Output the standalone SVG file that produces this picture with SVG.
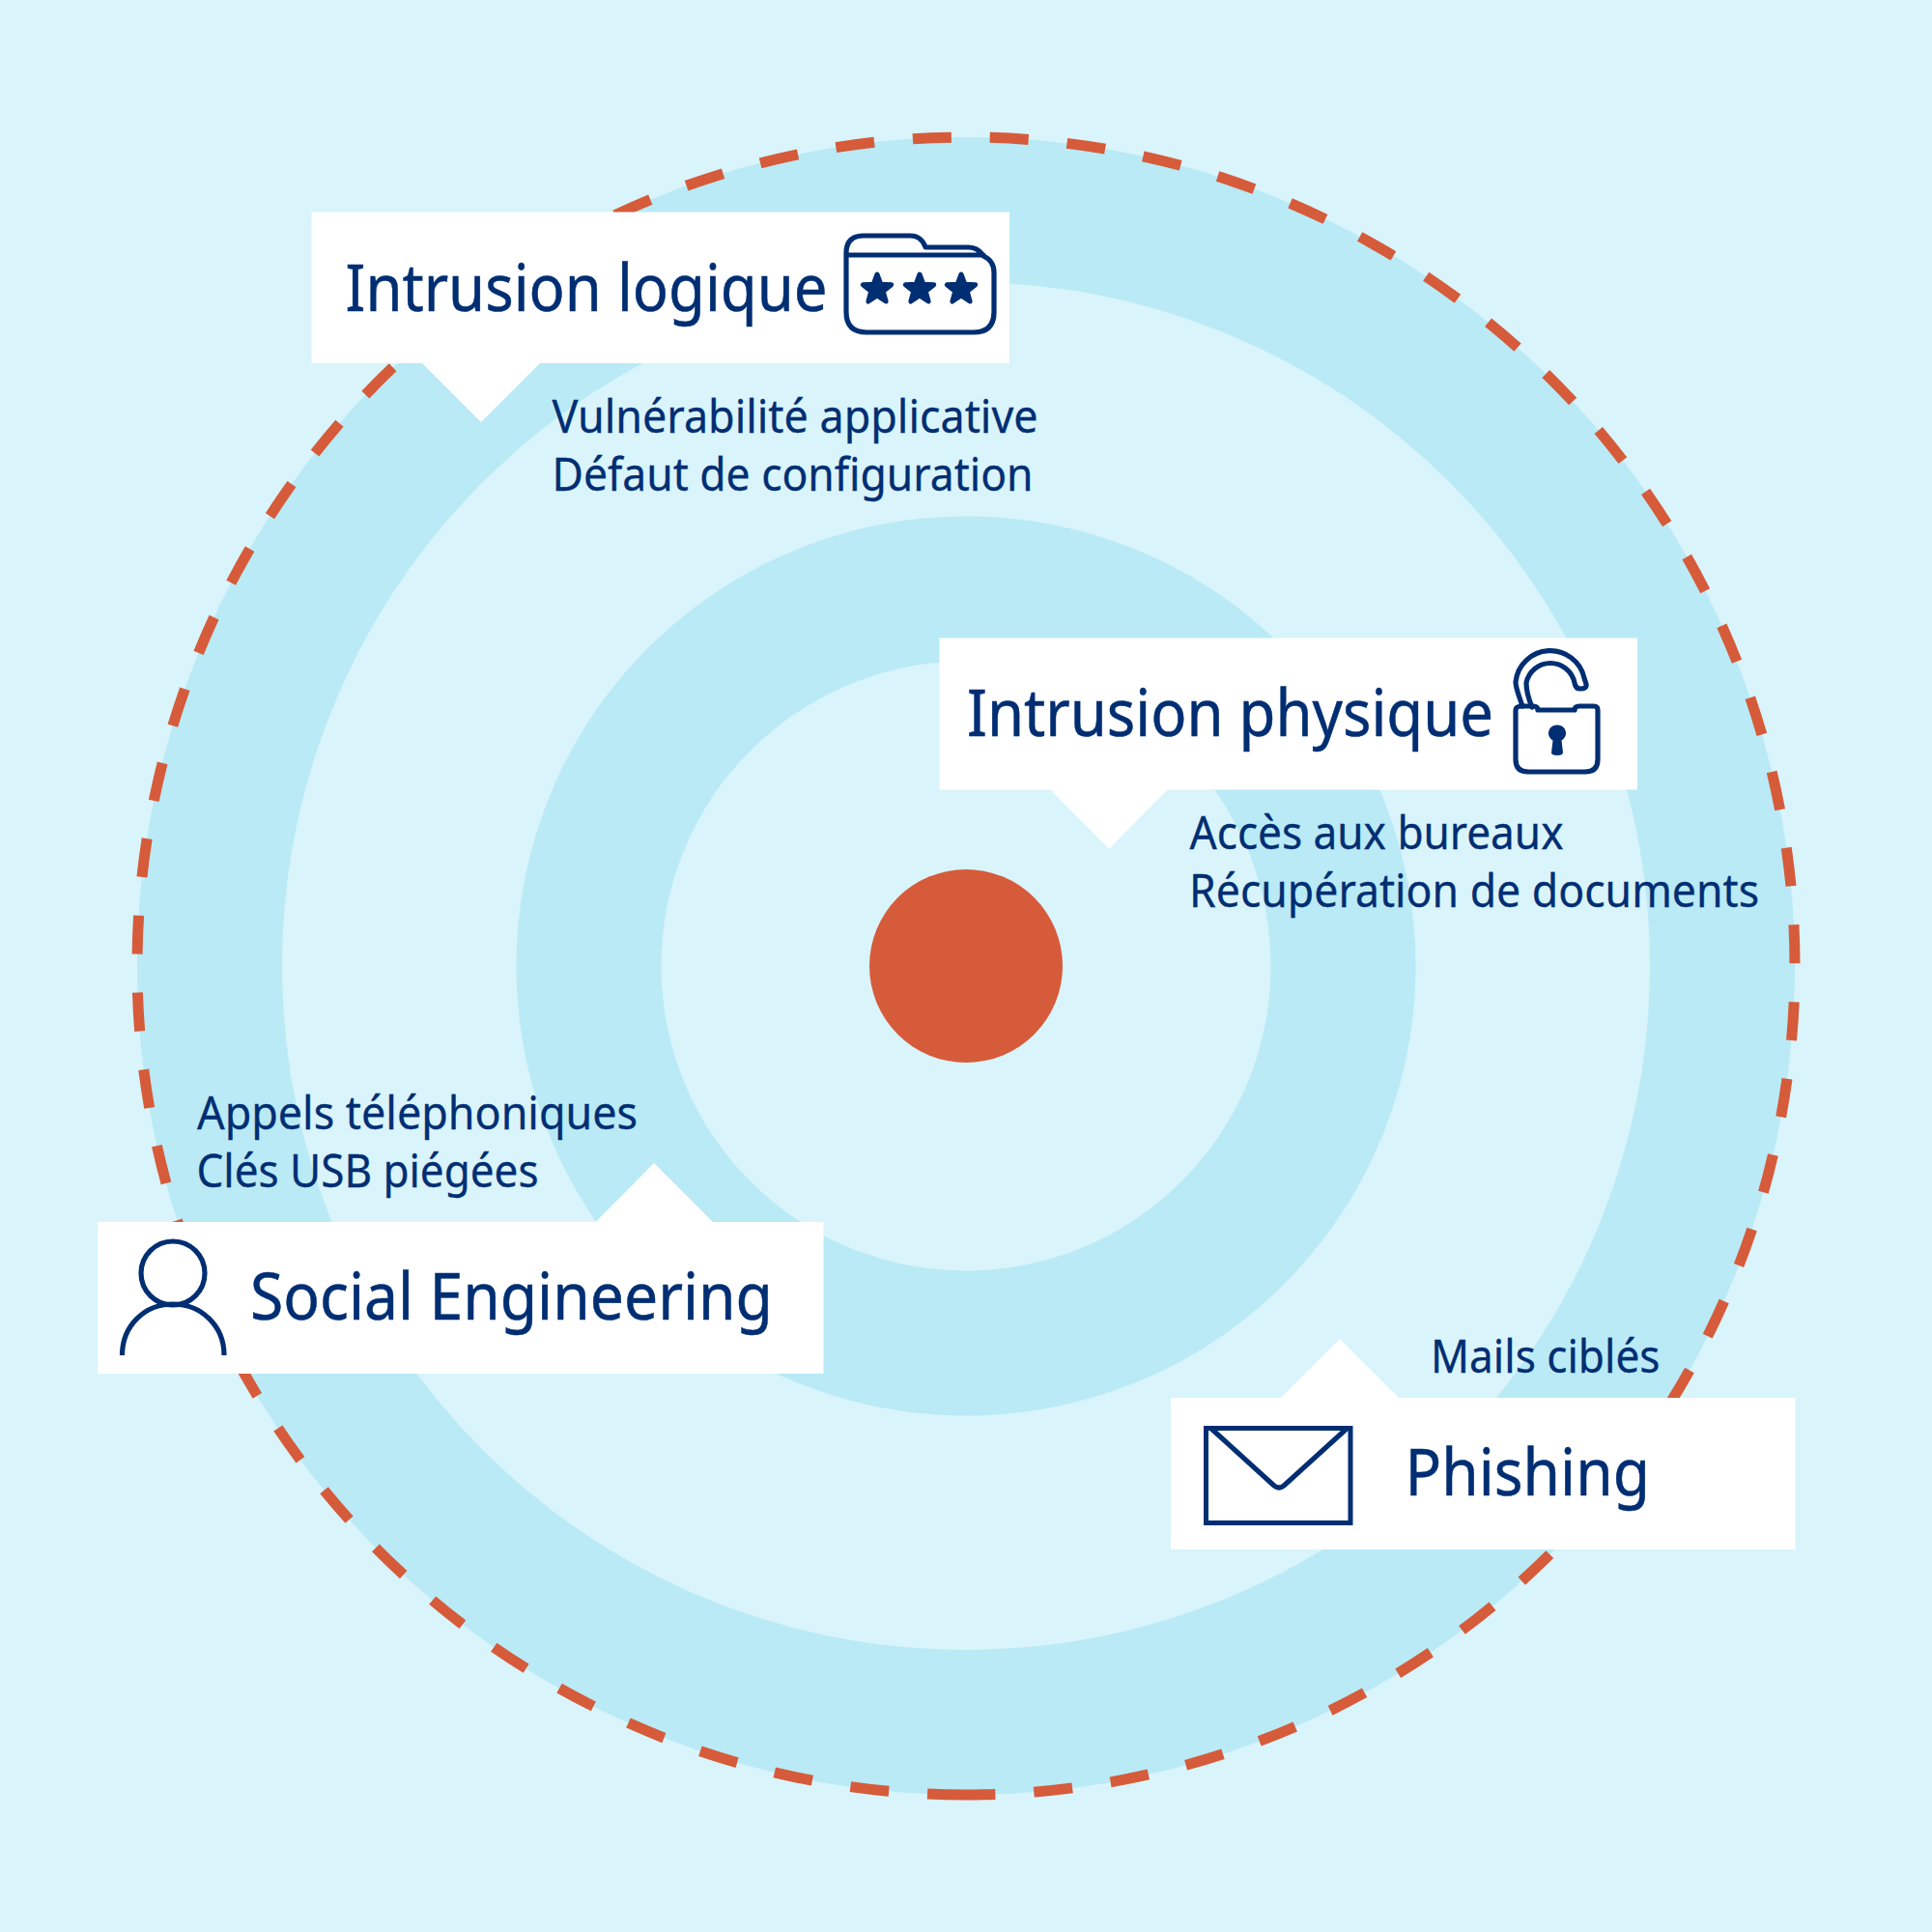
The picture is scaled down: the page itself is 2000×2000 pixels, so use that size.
<svg xmlns="http://www.w3.org/2000/svg" width="2000" height="2000" viewBox="0 0 2000 2000">
<style>
.ring{fill:none;stroke:#b9eaf6;stroke-width:150}
.box{fill:#fff}
.ic{fill:none;stroke:#002e73;stroke-width:5.2;stroke-linejoin:round;stroke-linecap:round}
.star{fill:#002e73;stroke:#002e73;stroke-width:5;stroke-linejoin:round}
text{font-family:"Noto Sans","Open Sans",sans-serif;fill:#002e73}
.t{font-size:67px;stroke:#002e73;stroke-width:.5}
.s{font-size:47.5px;stroke:#002e73;stroke-width:.3}
</style>
<defs>
<polygon id="star" points="0,-15.5 3.9,-5.2 14.7,-4.8 6.2,2 9.1,12.5 0,6.5 -9.1,12.5 -6.2,2 -14.7,-4.8 -3.9,-5.2"/>
</defs>
<rect width="2000" height="2000" fill="#d9f4fb"/>
<circle class="ring" cx="1000" cy="1000" r="783"/>
<circle class="ring" cx="1000" cy="1000" r="390.500"/>
<circle cx="1000" cy="1000" r="100" fill="#d65b3a"/>
<g id="connectors">
<path id="perimeter" d="M1000 1858A858 858 0 1 1 1000 142A858 858 0 1 1 1000 1858" fill="none" stroke="#d65b3a" stroke-width="11" stroke-dasharray="40 40"/>
</g>
<g id="intrusion-logique">
<path class="box" d="M322.500 219.500H1045V376H559L498 437L437 376H322.500Z"/>
<text class="t" x="357.500" y="321.500" textLength="499" lengthAdjust="spacingAndGlyphs">Intrusion logique</text>
<path class="ic" d="M876 264V262Q876 244 894 244H942Q954 244 958 256H1003Q1012 256 1018 265Q1029 270 1029 282V323Q1029 344 1008 344H897Q876 344 876 323ZM876 264H1018"/>
<use class="star" href="#star" x="908" y="299.500"/>
<use class="star" href="#star" x="952" y="299.500"/>
<use class="star" href="#star" x="995" y="299.500"/>
<text class="s" x="571.500" y="448" textLength="503" lengthAdjust="spacingAndGlyphs">Vulnérabilité applicative</text>
<text class="s" x="571.500" y="508" textLength="498" lengthAdjust="spacingAndGlyphs">Défaut de configuration</text>
</g>
<g id="intrusion-physique">
<path class="box" d="M972.500 660.500H1695V817.500H1208.500L1148 879L1087.500 817.500H972.500Z"/>
<text class="t" x="1001" y="761.500" textLength="545" lengthAdjust="spacingAndGlyphs">Intrusion physique</text>
<path class="ic" d="M1576 731C1571 716 1569 712 1569 706A36 36 0 0 1 1640 702L1642 708Q1643 713 1636 713Q1631 713 1630 707A25.500 25.500 0 0 0 1580 707C1580 715 1583 725 1586 732"/>
<path class="ic" d="M1576 731H1587Q1592 731 1592 735H1630Q1630 731 1635 731H1650Q1654 731 1654 735V786Q1654 799 1641 799H1582Q1569 799 1569 786V735Q1569 731 1576 731Z"/>
<path fill="#002e73" d="M1612 750.500A8.500 8.500 0 0 1 1616.500 766.500L1618 779Q1618 782 1612 782Q1606 782 1606 779L1607.500 766.500A8.500 8.500 0 0 1 1612 750.500Z"/>
<text class="s" x="1231.500" y="879" textLength="387" lengthAdjust="spacingAndGlyphs">Accès aux bureaux</text>
<text class="s" x="1231" y="939" textLength="590" lengthAdjust="spacingAndGlyphs">Récupération de documents</text>
</g>
<g id="social-engineering">
<path class="box" d="M101 1265H616.500L677 1204L738 1265H852.500V1422H101Z"/>
<circle class="ic" cx="179" cy="1318" r="33"/>
<path class="ic" style="stroke-linecap:butt" d="M126.500 1403C126.500 1372 150 1350 179 1350C208 1350 232 1372 232 1403"/>
<text class="t" x="259" y="1366" textLength="541" lengthAdjust="spacingAndGlyphs">Social Engineering</text>
<text class="s" x="204" y="1169" textLength="456" lengthAdjust="spacingAndGlyphs">Appels téléphoniques</text>
<text class="s" x="203.500" y="1229" textLength="354" lengthAdjust="spacingAndGlyphs">Clés USB piégées</text>
</g>
<g id="phishing">
<path class="box" d="M1212 1447H1326L1387 1386L1448 1447H1858.500V1604H1212Z"/>
<rect x="1248.500" y="1478.500" width="149.500" height="98" fill="none" stroke="#002e73" stroke-width="5"/>
<path class="ic" d="M1254 1479L1319 1538Q1324 1542 1329 1538L1394 1479" style="stroke-linecap:butt"/>
<text class="t" x="1454.500" y="1548" textLength="253.500" lengthAdjust="spacingAndGlyphs">Phishing</text>
<text class="s" x="1481" y="1420.500" textLength="237.500" lengthAdjust="spacingAndGlyphs">Mails ciblés</text>
</g>
</svg>
